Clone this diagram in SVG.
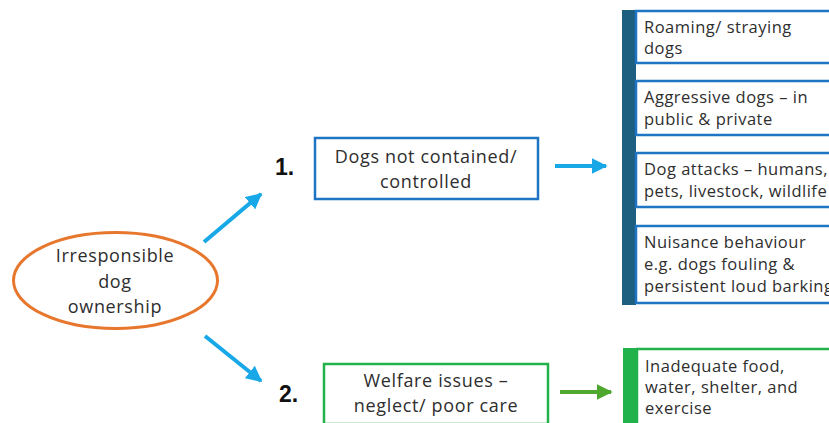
<svg xmlns="http://www.w3.org/2000/svg" width="829" height="423" viewBox="0 0 829 423">
  <style>
    .txt { font-family: "Open Sans", "Liberation Sans", sans-serif; fill: #2e2e2e; }
    .mid { text-anchor: middle; font-size: 18px; letter-spacing: 0.65px; }
    .lst { font-size: 16.5px; letter-spacing: 0.5px; }
    .num { font-family: "Liberation Sans", sans-serif; font-weight: bold; font-size: 23px; fill: #111; }
    .blueBox { fill: #fff; stroke: #1f74c4; stroke-width: 2.5; }
    .greenBox { fill: #fff; stroke: #22b24c; stroke-width: 2.5; }
    .item { fill: #fff; stroke: #1f74c4; stroke-width: 2.5; }
    .cyan { stroke: #18a8e8; stroke-width: 4; fill: none; }
    .grn { stroke: #4ea72e; stroke-width: 4; fill: none; }
  </style>
  <defs>
    <marker id="ahCyan" viewBox="0 0 10 10" refX="9" refY="5" markerWidth="4" markerHeight="4" orient="auto" markerUnits="strokeWidth">
      <path d="M0,0 L10,5 L0,10 z" fill="#18a8e8"/>
    </marker>
    <marker id="ahGreen" viewBox="0 0 10 10" refX="9" refY="5" markerWidth="4" markerHeight="4" orient="auto" markerUnits="strokeWidth">
      <path d="M0,0 L10,5 L0,10 z" fill="#4ea72e"/>
    </marker>
  </defs>
  <rect width="829" height="423" fill="#fff"/>

  <!-- root cause -->
  <g id="ownership">
    <ellipse cx="115.5" cy="280.5" rx="102" ry="48" fill="#fff" stroke="#e8772e" stroke-width="3"/>
    <text class="txt mid" x="115" y="262">Irresponsible</text>
    <text class="txt mid" x="115" y="288">dog</text>
    <text class="txt mid" x="115" y="313">ownership</text>
  </g>

  <!-- branch 1 -->
  <g id="containment">
    <text class="num" x="275" y="175">1.</text>
    <rect class="blueBox" x="315" y="138" width="223" height="61"/>
    <text class="txt mid" x="426" y="163">Dogs not contained/</text>
    <text class="txt mid" x="426" y="188">controlled</text>
  </g>

  <!-- branch 2 -->
  <g id="welfare">
    <text class="num" x="279" y="402">2.</text>
    <rect class="greenBox" x="324" y="364" width="224" height="60"/>
    <text class="txt mid" x="436" y="387">Welfare issues –</text>
    <text class="txt mid" x="436" y="412">neglect/ poor care</text>
  </g>

  <!-- consequences of branch 1 -->
  <g id="control-outcomes">
    <rect x="622" y="10" width="14" height="295" fill="#1e5f80"/>
    <g id="roaming">
      <rect class="item" x="636" y="11" width="200" height="52"/>
      <text class="txt lst" x="644" y="33">Roaming/ straying</text>
      <text class="txt lst" x="644" y="54">dogs</text>
    </g>
    <g id="aggressive">
      <rect class="item" x="636" y="81" width="200" height="54"/>
      <text class="txt lst" x="644" y="103">Aggressive dogs – in</text>
      <text class="txt lst" x="644" y="125">public &amp; private</text>
    </g>
    <g id="attacks">
      <rect class="item" x="636" y="153" width="200" height="54"/>
      <text class="txt lst" x="644" y="175">Dog attacks – humans,</text>
      <text class="txt lst" x="644" y="197">pets, livestock, wildlife</text>
    </g>
    <g id="nuisance">
      <rect class="item" x="636" y="226" width="200" height="77"/>
      <text class="txt lst" x="644" y="248">Nuisance behaviour</text>
      <text class="txt lst" x="644" y="270">e.g. dogs fouling &amp;</text>
      <text class="txt lst" x="644" y="292">persistent loud barking</text>
    </g>
  </g>

  <!-- consequences of branch 2 -->
  <g id="welfare-outcomes">
    <rect x="623" y="348" width="14" height="80" fill="#22b24c"/>
    <rect class="greenBox" x="637" y="349" width="200" height="80"/>
    <text class="txt lst" x="645" y="372">Inadequate food,</text>
    <text class="txt lst" x="645" y="393">water, shelter, and</text>
    <text class="txt lst" x="645" y="414">exercise</text>
  </g>

  <!-- connectors -->
  <g id="connectors">
    <line class="cyan" x1="204" y1="242" x2="261" y2="194" marker-end="url(#ahCyan)"/>
    <line class="cyan" x1="205" y1="336" x2="261" y2="381" marker-end="url(#ahCyan)"/>
    <line class="cyan" x1="555" y1="166" x2="606" y2="166" marker-end="url(#ahCyan)"/>
    <line class="grn" x1="560" y1="392" x2="611" y2="392" marker-end="url(#ahGreen)"/>
  </g>
</svg>
